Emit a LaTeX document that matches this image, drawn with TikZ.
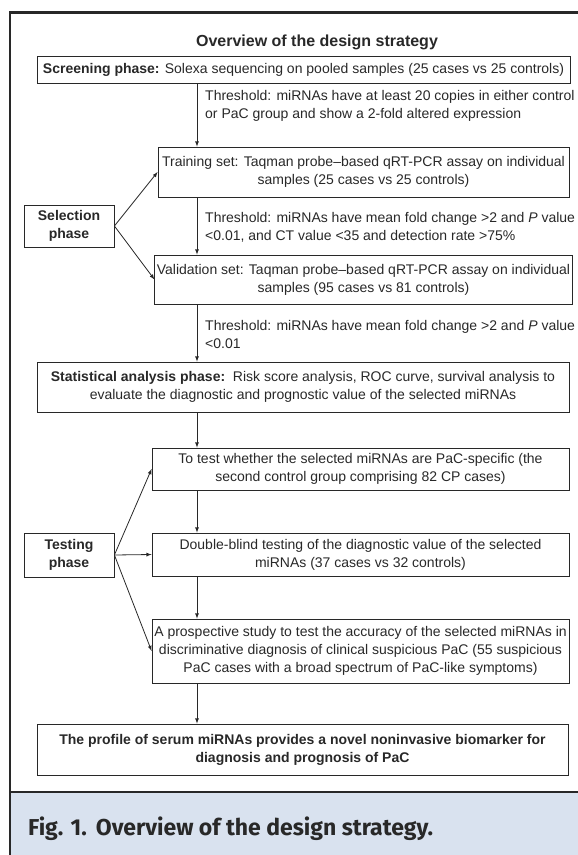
\documentclass[tikz,border=0pt]{standalone}
\usepackage{fontspec}
\setmainfont{Liberation Sans}
\newfontfamily\capfont{Fira Sans}
\usepackage{xcolor}

\definecolor{ink}{RGB}{40,40,40}
\definecolor{capblue}{RGB}{217,226,239}

\begin{document}
\begin{tikzpicture}[x=1pt, y=-1pt,
          box/.style={draw=ink, line width=0.8pt, align=center, inner sep=2pt, text=ink, font=\fontsize{14}{18}\selectfont},
          phasebox/.style={box, font=\fontsize{14}{18}\selectfont\bfseries},
          note/.style={anchor=west, align=left, inner sep=0pt, text=ink, font=\fontsize{14}{18}\selectfont},
          flow/.style={-latex, draw=ink, line width=0.8pt},
        ]
          \useasboundingbox (0,0) rectangle (578,855);
          % frame and caption strip
          \fill[capblue] (10,792) rectangle (578,855);
          \draw[ink, line width=2.5pt] (10,855) -- (10,12.5) -- (578,12.5);
          \draw[ink, line width=2.5pt] (10,792) -- (578,792);
          \node[text=ink, font=\fontsize{16}{18}\selectfont\bfseries] (title) at (317,42) {Overview of the design strategy};
          \coordinate (axis) at (197,0);

          \node[box, minimum width=533pt, minimum height=27pt] (screen) at (303.5,69.5) {\textbf{Screening phase:} Solexa sequencing on pooled samples (25 cases vs 25 controls)};
          \node[note] (thr1) at (205,106) {Threshold: miRNAs have at least 20 copies in either control\\or PaC group and show a 2-fold altered expression};
          \node[box, minimum width=411pt, minimum height=50pt] (train) at (363.5,172) {Training set: Taqman probe--based qRT-PCR assay on individual\\samples (25 cases vs 25 controls)};
          \node[phasebox, minimum width=90pt, minimum height=42pt] (select) at (69,226) {Selection\\phase};
          \node[note] (thr2) at (205,227) {Threshold: miRNAs have mean fold change >2 and \textit{P} value\\<0.01, and CT value <35 and detection rate >75\%};
          \node[box, minimum width=411pt, minimum height=49pt] (valid) at (363.5,279.5) {Validation set: Taqman probe--based qRT-PCR assay on individual\\samples (95 cases vs 81 controls)};
          \node[note] (thr3) at (205,334) {Threshold: miRNAs have mean fold change >2 and \textit{P} value\\<0.01};
          \node[box, minimum width=532pt, minimum height=50pt] (stats) at (303,387) {\textbf{Statistical analysis phase:}\ \ Risk score analysis, ROC curve, survival analysis to\\evaluate the diagnostic and prognostic value of the selected miRNAs};
          \node[box, minimum width=417pt, minimum height=42pt] (specific) at (360.5,469) {To test whether the selected miRNAs are PaC-specific (the\\second control group comprising 82 CP cases)};
          \node[phasebox, minimum width=90pt, minimum height=44pt] (testing) at (69,555) {Testing\\phase};
          \node[box, minimum width=417pt, minimum height=43pt] (blind) at (360.5,554.5) {Double-blind testing of the diagnostic value of the selected\\miRNAs (37 cases vs 32 controls)};
          \node[box, minimum width=417pt, minimum height=64pt] (prosp) at (360.5,651) {A prospective study to test the accuracy of the selected miRNAs in\\discriminative diagnosis of clinical suspicious PaC (55 suspicious\\PaC cases with a broad spectrum of PaC-like symptoms)};
          \node[phasebox, minimum width=531pt, minimum height=51pt] (profile) at (302.5,749.5) {The profile of serum miRNAs provides a novel noninvasive biomarker for\\diagnosis and prognosis of PaC};

          \node[anchor=base west, inner sep=0pt, text=ink, font=\capfont\fontsize{23}{26}\selectfont\bfseries] (caption) at (28,835) {Fig. 1.\hspace{9pt}Overview of the design strategy.};

          % main flow
          \draw[flow] (screen.south -| axis) -- (train.north -| axis);
          \draw[flow] (train.south -| axis) -- (valid.north -| axis);
          \draw[flow] (valid.south -| axis) -- (stats.north -| axis);
          \draw[flow] (stats.south -| axis) -- (specific.north -| axis);
          \draw[flow] (specific.south -| axis) -- (blind.north -| axis);
          \draw[flow] (blind.south -| axis) -- (prosp.north -| axis);
          \draw[flow] (prosp.south -| axis) -- (profile.north -| axis);
          % phase branches
          \draw[flow] (select.east) -- (train.west);
          \draw[flow] (select.east) -- (valid.west);
          \draw[flow] (testing.east) -- (specific.west);
          \draw[flow] (testing.east) -- (blind.west);
          \draw[flow] (testing.east) -- (prosp.west);
        \end{tikzpicture}
\end{document}
